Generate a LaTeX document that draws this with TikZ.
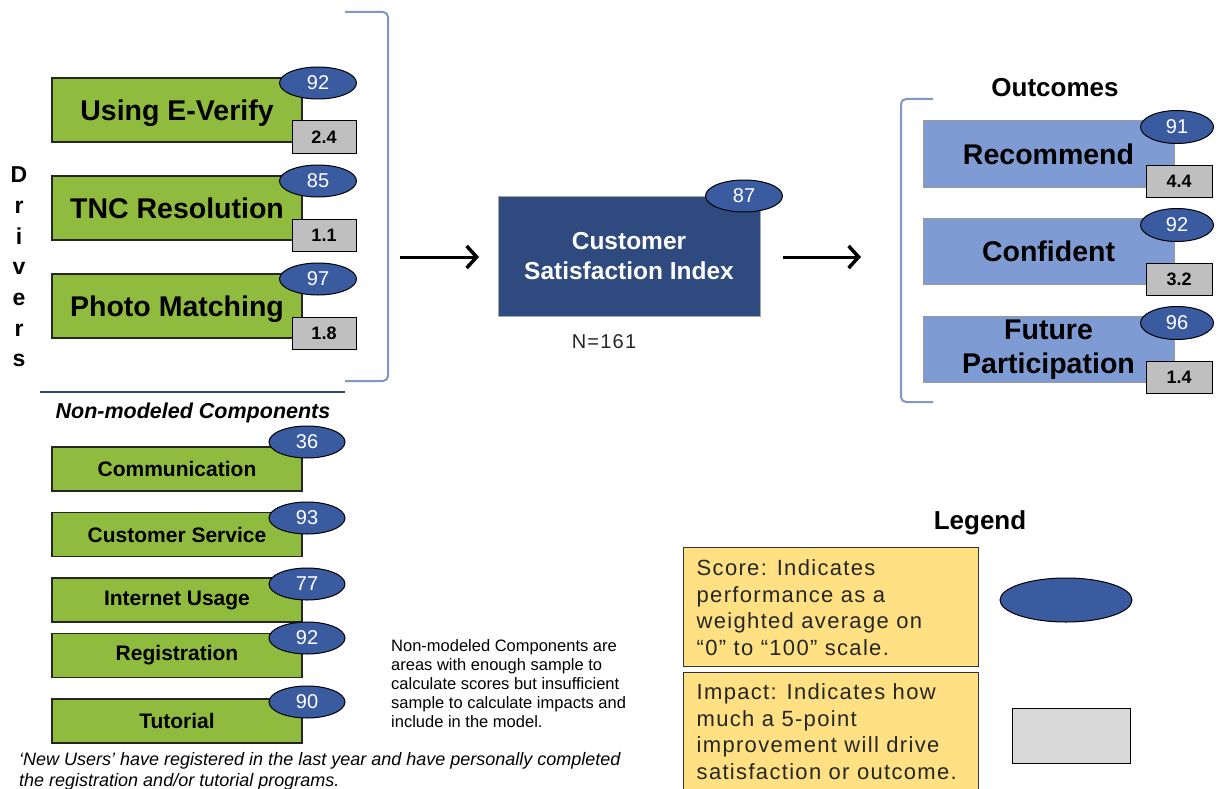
\documentclass[tikz,border=0pt]{standalone}
\usepackage{fontspec}
\setmainfont{Liberation Sans}
\newfontfamily\legfont{Liberation Sans}[LetterSpace=6]
\usetikzlibrary{arrows.meta,shapes.geometric}
\definecolor{drvgreen}{HTML}{8FBC3F}
\definecolor{scoreblue}{HTML}{3A5BA0}
\definecolor{navy}{HTML}{2F4A7F}
\definecolor{outblue}{HTML}{7F9BD3}
\definecolor{brkcol}{HTML}{8097C6}
\definecolor{impgray}{HTML}{BFBFBF}
\definecolor{leggray}{HTML}{D9D9D9}
\definecolor{legyellow}{HTML}{FFE083}
\newcommand{\setfs}[2]{\fontsize{#1}{#2}\selectfont}
\begin{document}
\begin{tikzpicture}[x=1pt,y=-1pt,
  drvbox/.style={rectangle, draw=black!85, line width=1.2pt, fill=drvgreen, minimum width=250pt, inner sep=0pt, text depth=0pt, font=\bfseries\setfs{28.5}{30}},
  nmbox/.style={rectangle, draw=black!85, line width=1.2pt, fill=drvgreen, minimum width=250pt, minimum height=44pt, inner sep=0pt, font=\bfseries\setfs{21}{24}},
  outbox/.style={rectangle, draw=black!40, line width=1pt, fill=outblue, minimum width=251pt, minimum height=66pt, inner sep=0pt, align=center, font=\bfseries\setfs{28.5}{34}},
  score/.style={ellipse, draw=black, line width=1pt, fill=scoreblue, minimum width=77pt, minimum height=32pt, inner sep=0pt, text=white, font=\setfs{20}{22}},
  impact/.style={rectangle, draw=black, line width=1pt, fill=impgray, minimum width=64pt, minimum height=32pt, inner sep=0pt, font=\bfseries\setfs{18}{20}},
  brk/.style={draw=brkcol, line width=2pt, rounded corners=5pt},
  flow/.style={line width=3pt, -{Straight Barb[length=10pt,width=22pt,line width=3.5pt]}},
  legbox/.style={rectangle, draw=black!80, line width=1pt, fill=legyellow, minimum width=295pt, inner sep=0pt},
  legtext/.style={anchor=west, align=left, inner sep=0pt, text=black!85, font=\legfont\setfs{22}{26.7}}
]
\useasboundingbox (0,0) rectangle (1220,789);
\fill[white] (0,0) rectangle (1220,789);

% Drivers label
\node[align=center, inner sep=0pt, font=\bfseries\setfs{23}{30.7}] (drv) at (19,267) {D\\r\\i\\v\\e\\r\\s};

% Drivers bracket
\draw[brk] (345,12) -- (388,12) -- (388,381) -- (345,381);
\draw[draw=navy, line width=2.5pt] (40,392) -- (345,392);

% Driver boxes
\node[drvbox, minimum height=64pt] (ev) at (177,110) {Using E-Verify};
\node[drvbox, minimum height=64pt] (tnc) at (177,208) {TNC Resolution};
\node[drvbox, minimum height=64pt] (pm) at (177,306) {Photo Matching};
\node[impact] (evi) at (324,137) {2.4};
\node[impact] (tnci) at (324,235) {1.1};
\node[impact] (pmi) at (324,333) {1.8};
\node[score] (evs) at (318,83) {92};
\node[score] (tncs) at (318,181) {85};
\node[score] (pms) at (318,279) {97};

% CSI
\node[rectangle, draw=black!35, line width=1pt, fill=navy, minimum width=262pt, minimum height=120pt, inner sep=0pt, text=white, align=center, font=\bfseries\setfs{24.5}{30}] (csi) at (629,256) {Customer\\Satisfaction Index};
\node[score] (csis) at (744,196) {87};
\node[inner sep=0pt, text=black!85, font=\legfont\setfs{20}{22}] (n) at (604,342) {N=161};

% Arrows
\coordinate (a1s) at (400,257);
\coordinate (a1e) at (479,257);
\coordinate (a2s) at (783,257);
\coordinate (a2e) at (861,257);
\draw[flow] (a1s) -- (a1e);
\draw[flow] (a2s) -- (a2e);

% Outcomes
\node[inner sep=0pt, font=\bfseries\setfs{26}{28}] (outt) at (1055,88) {Outcomes};
\draw[brk] (933,99) -- (901,99) -- (901,402) -- (933,402);
\node[outbox] (rec) at (1048.5,154) {Recommend};
\node[outbox] (conf) at (1048.5,251.5) {Confident};
\node[outbox] (fut) at (1048.5,349.5) {Future\\Participation};
\node[impact, minimum width=66pt] (reci) at (1179,181) {4.4};
\node[impact, minimum width=66pt] (confi) at (1179,279) {3.2};
\node[impact, minimum width=66pt] (futi) at (1179,377) {1.4};
\node[score, minimum width=73pt, minimum height=33pt] (recs) at (1177,127) {91};
\node[score, minimum width=73pt, minimum height=33pt] (confs) at (1177,225) {92};
\node[score, minimum width=73pt, minimum height=33pt] (futs) at (1177,323) {96};

% Non-modeled components
\node[inner sep=0pt, font=\bfseries\itshape\setfs{21.5}{24}] (nmt) at (193,413) {Non-modeled Components};
\node[nmbox] (comm) at (177,469) {Communication};
\node[nmbox] (cs) at (177,534.5) {Customer Service};
\node[nmbox] (iu) at (177,600) {Internet Usage};
\node[nmbox] (reg) at (177,655.5) {Registration};
\node[nmbox] (tut) at (177,721) {Tutorial};
\node[score, minimum width=76pt] (comms) at (307,442) {36};
\node[score, minimum width=76pt] (css) at (307,518) {93};
\node[score, minimum width=76pt] (ius) at (307,584) {77};
\node[score, minimum width=76pt] (regs) at (307,638) {92};
\node[score, minimum width=76pt] (tuts) at (307,702) {90};

% Note text
\node[anchor=north west, align=left, inner sep=0pt, font=\setfs{16.5}{19}] (note) at (391,639) {Non-modeled Components are\\areas with enough sample to\\calculate scores but insufficient\\sample to calculate impacts and\\include in the model.};

% Footnote
\node[anchor=north west, align=left, inner sep=0pt, font=\itshape\setfs{18}{21}] (foot) at (19,752) {‘New Users’ have registered in the last year and have personally completed\\the registration and/or tutorial programs.};

% Legend
\node[inner sep=0pt, font=\bfseries\setfs{26}{28}] (legt) at (980,523) {Legend};
\node[legbox, minimum height=119pt] (lscore) at (830.5,606.5) {};
\node[legtext] (lscoret) at ([xshift=14pt,yshift=-1pt]lscore.west) {Score: Indicates\\performance as a\\weighted average on\\“0” to “100” scale.};
\node[legbox, minimum height=117pt] (limp) at (830.5,730.5) {};
\node[legtext] (limpt) at ([xshift=14pt,yshift=-1pt]limp.west) {Impact: Indicates how\\much a 5-point\\improvement will drive\\satisfaction or outcome.};
\node[ellipse, draw=black, line width=1pt, fill=scoreblue, minimum width=132pt, minimum height=44pt, inner sep=0pt] (lell) at (1066,600) {};
\node[rectangle, draw=black, line width=1pt, fill=leggray, minimum width=118pt, minimum height=55pt, inner sep=0pt] (lrect) at (1071,736) {};
\end{tikzpicture}
\end{document}
